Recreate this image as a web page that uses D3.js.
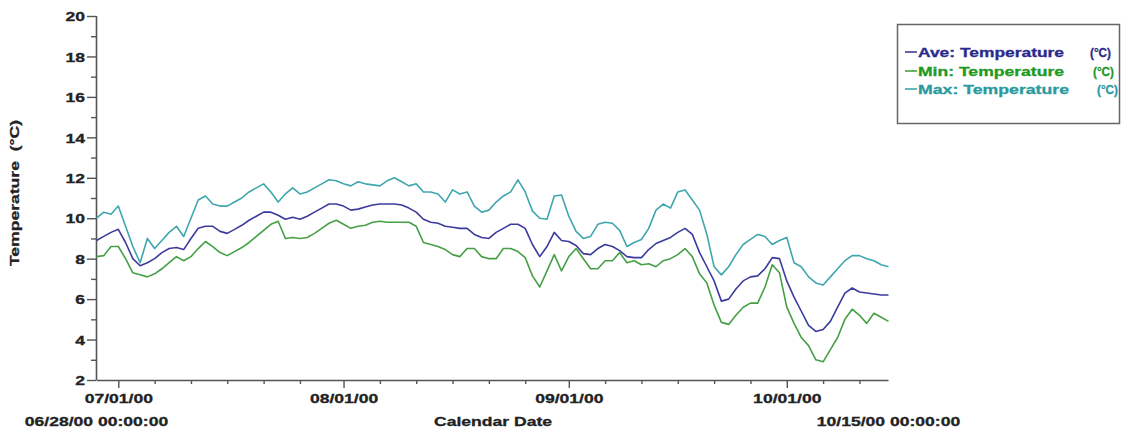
<!DOCTYPE html>
<html><head><meta charset="utf-8">
<script src="https://cdn.jsdelivr.net/npm/d3@7"></script>
<style>
html,body{margin:0;padding:0;background:#fff;}
svg{display:block;font-family:"Liberation Sans",Arial,sans-serif;}
</style></head>
<body>
<svg id="chart" width="1121" height="437"></svg>
<script>
// ---- data (daily readings from 06/28/00) ----
const startDate = "2000-06-28";
const endDate = "2000-10-15";
const aveTemp = [8.9,9.1,9.3,9.45,8.8,8.0,7.65,7.8,8.0,8.3,8.5,8.55,8.45,9.0,9.5,9.6,9.6,9.35,9.25,9.45,
9.65,9.9,10.1,10.3,10.3,10.15,9.95,10.05,9.95,10.1,10.3,10.5,10.7,10.7,10.6,10.4,10.45,10.55,10.65,10.7,
10.7,10.7,10.65,10.5,10.3,9.95,9.8,9.75,9.6,9.55,9.5,9.5,9.2,9.05,9.0,9.3,9.5,9.7,9.7,9.5,
8.7,8.1,8.6,9.3,8.9,8.85,8.65,8.25,8.2,8.5,8.7,8.6,8.4,8.1,8.05,8.05,8.45,8.75,8.9,9.05,
9.3,9.5,9.2,8.3,7.6,6.9,5.9,6.0,6.5,6.9,7.1,7.15,7.5,8.05,8.0,6.9,6.1,5.4,4.7,4.4,
4.5,4.9,5.6,6.3,6.55,6.35,6.3,6.25,6.2,6.2];
const minTemp = [8.1,8.15,8.6,8.6,8.0,7.3,7.2,7.1,7.25,7.5,7.8,8.1,7.9,8.1,8.5,8.85,8.6,8.3,8.15,8.35,
8.55,8.8,9.1,9.4,9.7,9.85,9.0,9.05,9.0,9.05,9.25,9.5,9.75,9.9,9.7,9.5,9.6,9.65,9.8,9.85,
9.8,9.8,9.8,9.8,9.6,8.8,8.7,8.6,8.45,8.2,8.1,8.5,8.5,8.1,8.0,8.0,8.5,8.5,8.35,8.05,
7.15,6.6,7.4,8.2,7.4,8.1,8.5,8.0,7.5,7.5,7.9,7.9,8.3,7.8,7.9,7.7,7.75,7.6,7.9,8.0,
8.2,8.5,8.1,7.25,6.8,5.7,4.85,4.75,5.2,5.6,5.8,5.8,6.6,7.7,7.3,5.6,4.8,4.1,3.7,3.0,
2.9,3.5,4.1,5.0,5.5,5.2,4.8,5.3,5.1,4.9];
const maxTemp = [10.0,10.3,10.2,10.6,9.6,8.6,7.8,9.0,8.5,8.9,9.3,9.6,9.1,10.0,10.9,11.1,10.7,10.6,10.6,10.8,
11.0,11.3,11.5,11.7,11.3,10.8,11.2,11.5,11.2,11.3,11.5,11.7,11.9,11.85,11.7,11.6,11.8,11.7,11.65,11.6,
11.85,12.0,11.8,11.6,11.7,11.3,11.3,11.2,10.8,11.4,11.2,11.3,10.6,10.3,10.4,10.8,11.1,11.3,11.9,11.3,
10.35,10.0,9.95,11.1,11.15,10.1,9.35,9.0,9.1,9.7,9.8,9.75,9.4,8.6,8.8,8.95,9.5,10.4,10.7,10.5,
11.3,11.4,10.9,10.4,9.2,7.6,7.2,7.6,8.2,8.7,8.95,9.2,9.1,8.7,8.9,9.05,7.8,7.6,7.1,6.8,
6.7,7.1,7.5,7.9,8.15,8.15,8.0,7.9,7.7,7.6];
const seriesNames = ["Ave: Temperature", "Min: Temperature", "Max: Temperature"];
const unitLabel = "(°C)";
const majorTickDates = ["2000-07-01","2000-08-01","2000-09-01","2000-10-01"];
const yTickValues = [2,4,6,8,10,12,14,16,18,20];
const xTitle = "Calendar Date";
const yTitle = "Temperature  (°C)";
const endLabels = ["06/28/00 00:00:00", "10/15/00 00:00:00"];

// ---- drawing ----
const svg = d3.select("#chart");
const parse = d3.timeParse("%Y-%m-%d");
const t0 = parse(startDate), t1 = parse(endDate);
const x = d3.scaleTime().domain([t0, t1]).range([96.5, 888.5]);
const y = d3.scaleLinear().domain([2, 20]).range([380, 16]);
const colors = ["#3b3b9e", "#45a045", "#3fa6ae"];
const textColors = ["#2a2a8c", "#1f991f", "#2a9a9e"];
const STRETCH = 1.35;

function stretch(sel, k) {
  sel.each(function() {
    const len = this.getComputedTextLength();
    d3.select(this).attr("textLength", len * (k || STRETCH)).attr("lengthAdjust", "spacingAndGlyphs");
  });
}
function fitTo(sel, w) {
  sel.attr("textLength", w).attr("lengthAdjust", "spacingAndGlyphs");
}
function boldText(sel, color) {
  sel.attr("font-size", 13).attr("font-weight", "bold").attr("fill", color || "#222")
    .attr("stroke", color || "#222").attr("stroke-width", 0.3);
}

const dates = aveTemp.map((_, i) => d3.timeDay.offset(t0, i));
const series = [aveTemp, minTemp, maxTemp];

// axes
const axisColor = "#555";
const majors = majorTickDates.map(parse);
const minors = d3.timeDay.range(t0, t1).filter(d => [6,11,16,21,26].includes(d.getDate()));

const gxMinor = svg.append("g").attr("transform", "translate(0,380)")
  .call(d3.axisBottom(x).tickValues(minors).tickSize(4).tickFormat(""));
const gx = svg.append("g").attr("transform", "translate(0,380)")
  .call(d3.axisBottom(x).tickValues(majors).tickSize(8).tickPadding(4).tickFormat(d3.timeFormat("%m/%d/%y")));
[gxMinor, gx].forEach(g => {
  g.select(".domain").attr("stroke", axisColor).attr("stroke-width", 1.6);
  g.selectAll(".tick line").attr("stroke", axisColor).attr("stroke-width", 1.4);
});
gxMinor.select(".domain").remove();
gx.select(".domain").attr("d", `M${x(t0)},0.5H${x(t1)}`);
gx.selectAll(".tick text").call(boldText).attr("y", 14).attr("dy", "0.71em").call(stretch);

const gyMinor = svg.append("g").attr("transform", "translate(96,0)")
  .call(d3.axisLeft(y).tickValues(d3.range(3, 20, 2)).tickSize(5).tickFormat(""));
const gy = svg.append("g").attr("transform", "translate(96,0)")
  .call(d3.axisLeft(y).tickValues(yTickValues).tickSize(9).tickPadding(2).tickFormat(d3.format("d")));
gyMinor.select(".domain").remove();
gy.select(".domain").attr("stroke", axisColor).attr("stroke-width", 1.6).attr("d", `M0.5,${y(20)}V${y(2)}`);
[gyMinor, gy].forEach(g => g.selectAll(".tick line").attr("stroke", axisColor).attr("stroke-width", 1.4));
gy.selectAll(".tick text").call(boldText).attr("dy", "0.36em").call(stretch);

// axis titles and end labels
svg.append("text").attr("x", x(t0)).attr("y", 426).attr("text-anchor", "middle")
  .call(boldText).text(endLabels[0]).call(stretch);
svg.append("text").attr("x", x(t1)).attr("y", 426).attr("text-anchor", "middle")
  .call(boldText).text(endLabels[1]).call(stretch);
svg.append("text").attr("x", 493).attr("y", 426).attr("text-anchor", "middle")
  .call(boldText).text(xTitle).call(stretch);
svg.append("text").attr("transform", "translate(19,193) rotate(-90)").attr("text-anchor", "middle")
  .call(boldText).attr("xml:space", "preserve").text(yTitle).call(stretch);

// lines (draw Max, Min, Ave order so Ave on top)
const line = d3.line().x((d, i) => x(dates[i])).y(d => y(d));
[2, 1, 0].forEach(k => {
  svg.append("path").datum(series[k]).attr("fill", "none").attr("stroke", colors[k])
    .attr("stroke-width", 1.6).attr("stroke-linejoin", "round").attr("d", line);
});

// legend
const lg = svg.append("g");
lg.append("rect").attr("x", 897.5).attr("y", 24.5).attr("width", 222).attr("height", 99)
  .attr("fill", "#fff").attr("stroke", "#666").attr("stroke-width", 1.5);
const legY = [52, 71, 89];
const nameW = [146, 146, 151];
const unitX = [1090, 1093, 1097];
seriesNames.forEach((name, k) => {
  lg.append("line").attr("x1", 905).attr("x2", 917).attr("y1", legY[k]).attr("y2", legY[k])
    .attr("stroke", colors[k]).attr("stroke-width", 1.6);
  lg.append("text").attr("x", 918).attr("y", legY[k]).attr("dy", "0.36em")
    .call(boldText, textColors[k]).text(name).call(fitTo, nameW[k]);
  lg.append("text").attr("x", unitX[k]).attr("y", legY[k]).attr("dy", "0.36em")
    .call(boldText, textColors[k]).text(unitLabel).call(fitTo, 21);
});
</script>
</body></html>
